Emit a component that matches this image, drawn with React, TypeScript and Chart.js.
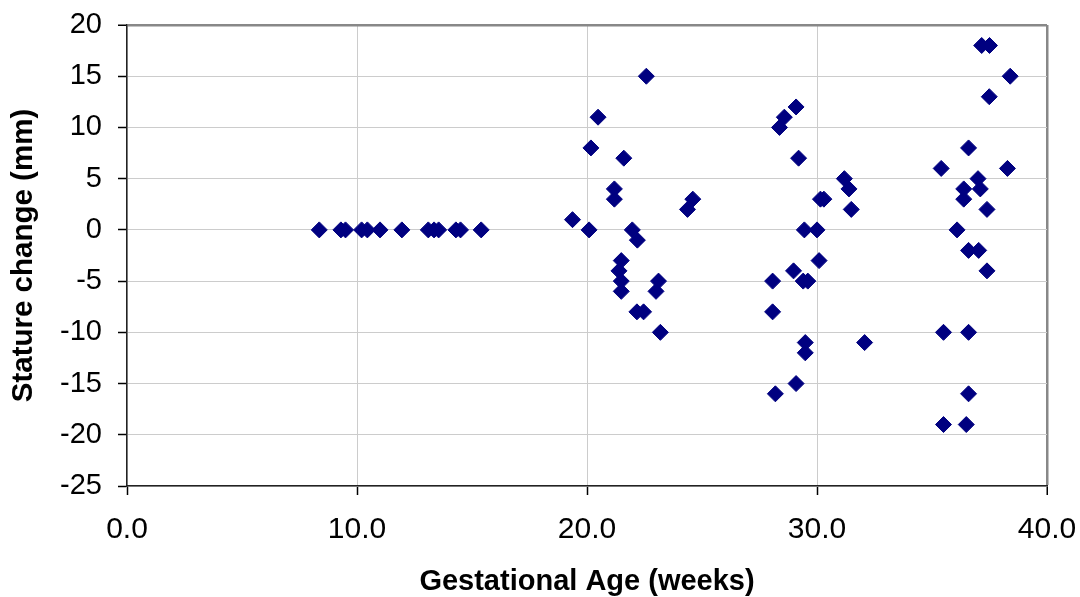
import React, { useEffect, useRef } from "react";
import { Chart, registerables } from "chart.js";

Chart.register(...registerables);

const weeks: number[] = [
  8.36, 9.3, 9.5, 10.2, 10.45, 11.0, 11.95, 13.1, 13.35, 13.55, 14.3, 14.5, 15.4,
  22.58, 20.48, 20.17, 21.6, 21.19, 21.19, 24.6, 24.37, 19.37, 20.09, 21.97, 22.19,
  21.49, 21.39, 21.49, 21.49, 23.11, 23.0, 22.17, 22.46, 23.19,
  29.09, 28.58, 28.37, 29.2, 31.19, 31.39, 30.15, 30.3, 31.49, 29.45, 30.0, 30.09,
  28.98, 29.4, 29.6, 28.07, 28.07, 29.49, 29.49, 32.07, 29.09, 28.19,
  37.16, 37.5, 38.4, 37.49, 36.59, 35.4, 38.28, 37.0, 36.38, 37.1, 36.38, 37.39,
  36.09, 36.59, 37.03, 37.39, 35.5, 36.59, 36.59, 35.5, 36.49,
];

const statureChange: number[] = [
  0, 0, 0, 0, 0, 0, 0, 0, 0, 0, 0, 0, 0,
  15, 11, 8, 7, 4, 3, 3, 2, 1, 0, 0, -1,
  -3, -4, -5, -6, -5, -6, -8, -8, -10,
  12, 11, 10, 7, 5, 4, 3, 3, 2, 0, 0, -3,
  -4, -5, -5, -5, -8, -11, -12, -11, -15, -16,
  18, 18, 15, 13, 8, 6, 6, 5, 4, 4, 3, 2,
  0, -2, -2, -4, -10, -10, -16, -19, -19,
];

const xTicks: number[] = [0, 10, 20, 30, 40];
const yTicks: number[] = [-25, -20, -15, -10, -5, 0, 5, 10, 15, 20];

const FONT = "'Liberation Sans', Arial, Helvetica, sans-serif";

function zeroPadding(s: any) {
  s.paddingTop = 0;
  s.paddingBottom = 0;
  s.paddingLeft = 0;
  s.paddingRight = 0;
}

export default function App() {
  const ref = useRef<HTMLCanvasElement | null>(null);

  useEffect(() => {
    if (!ref.current) return;
    const points = weeks.map((w, i) => ({ x: w, y: statureChange[i] }));
    const xMax = xTicks[xTicks.length - 1];
    const yMax = yTicks[yTicks.length - 1];
    const chart = new Chart(ref.current, {
      type: "scatter",
      data: {
        datasets: [
          {
            label: "Stature change",
            data: points,
            pointStyle: "rectRot",
            pointRadius: 8,
            pointHoverRadius: 8,
            backgroundColor: "#000080",
            borderColor: "#000080",
            borderWidth: 1,
          },
        ],
      },
      options: {
        responsive: false,
        animation: false,
        events: [],
        layout: { padding: { top: 25, right: 33, left: 0, bottom: 0 } },
        plugins: { legend: { display: false }, tooltip: { enabled: false } },
        scales: {
          x: {
            type: "linear",
            min: xTicks[0],
            max: xMax,
            afterFit: (s: any) => {
              s.height = 111;
              zeroPadding(s);
            },
            afterBuildTicks: (s: any) => {
              s.ticks = xTicks.map((v) => ({ value: v }));
            },
            ticks: {
              color: "#000",
              font: { family: FONT, size: 30 },
              padding: 17,
              maxRotation: 0,
              callback: (v: any) => Number(v).toFixed(1),
            },
            grid: {
              color: (c: any) => (c.tick && c.tick.value === xMax ? "#888888" : "#cccccc"),
              lineWidth: (c: any) => (c.tick && c.tick.value === xMax ? 2.5 : 1),
              tickColor: "#000",
              tickLength: 9,
              tickWidth: 1.5,
            },
            border: { color: "#222", width: 1.5 },
            title: {
              display: true,
              text: "Gestational Age (weeks)",
              color: "#000",
              font: { family: FONT, size: 29, weight: "bold" },
              padding: { top: 0, bottom: -2 },
            },
          },
          y: {
            type: "linear",
            min: yTicks[0],
            max: yMax,
            afterFit: (s: any) => {
              s.width = 127;
              zeroPadding(s);
            },
            afterBuildTicks: (s: any) => {
              s.ticks = yTicks.map((v) => ({ value: v }));
            },
            ticks: {
              color: "#000",
              font: { family: FONT, size: 29 },
              padding: 16,
            },
            grid: {
              color: (c: any) => (c.tick && c.tick.value === yMax ? "#888888" : "#cccccc"),
              lineWidth: (c: any) => (c.tick && c.tick.value === yMax ? 2.5 : 1),
              tickColor: "#000",
              tickLength: 9,
              tickWidth: 1.5,
            },
            border: { color: "#222", width: 1.5 },
            title: {
              display: true,
              text: "Stature change (mm)",
              color: "#000",
              font: { family: FONT, size: 29.5, weight: "bold" },
              padding: { top: 6, bottom: 0 },
            },
          },
        },
      },
    });
    return () => chart.destroy();
  }, []);

  return (
    <div style={{ position: "absolute", left: 0, top: 0, width: 1080, height: 597, background: "#fff" }}>
      <canvas ref={ref} width={1080} height={597} />
    </div>
  );
}
